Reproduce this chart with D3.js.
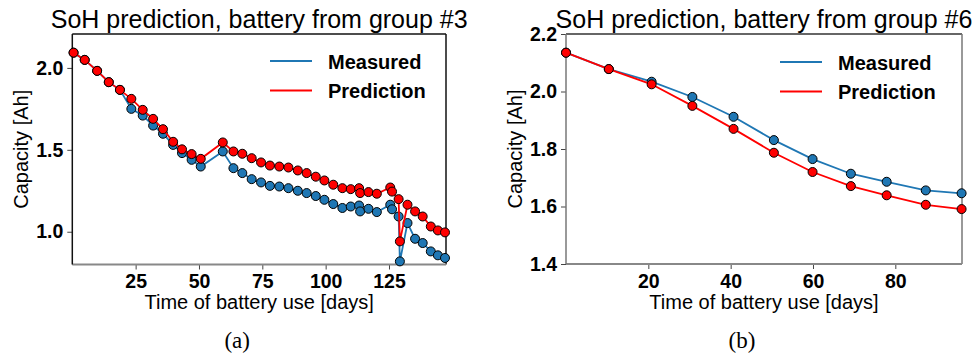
<!DOCTYPE html>
<meta charset="utf-8">
<style>
  body { margin: 0; background: #fff; }
  text { font-family: "Liberation Sans", Arial, sans-serif; }
  .tick text { font-weight: bold; font-size: 19.5px; fill: #000; }
  .legend text { font-weight: bold; font-size: 20px; }
</style>
<body>
<svg width="978" height="355"></svg>
<script src="https://cdn.jsdelivr.net/npm/d3@7"></script>
<script>
// panel (a): group #3
var daysA = [0.5, 4.9, 9.8, 14.4, 18.8, 23.3, 27.8, 31.9, 35.8, 39.8, 43.3, 47.1, 50.7,
  59.4, 63.6, 67.1, 70.8, 74.5, 78.0, 81.7, 85.3, 89.0, 92.5, 96.1, 99.5, 103.0, 106.6,
  109.9, 113.2, 113.6, 116.9, 120.2, 125.5, 126.2, 128.8, 129.3, 132.3, 135.3, 138.3,
  141.5, 144.3, 147.1];
var measuredA = [2.093, 2.049, 1.982, 1.913, 1.866, 1.750, 1.709, 1.648, 1.598, 1.530, 1.480,
  1.439, 1.398, 1.490, 1.388, 1.358, 1.321, 1.301, 1.280, 1.276, 1.266, 1.250, 1.236, 1.218,
  1.195, 1.169, 1.145, 1.154, 1.160, 1.124, 1.140, 1.120, 1.165, 1.137, 1.093, 0.819, 1.053,
  0.957, 0.931, 0.880, 0.856, 0.840];
var predictedA = [2.093, 2.049, 1.982, 1.913, 1.866, 1.811, 1.744, 1.689, 1.626, 1.549, 1.503,
  1.474, 1.445, 1.545, 1.490, 1.476, 1.449, 1.423, 1.404, 1.398, 1.392, 1.374, 1.358, 1.336,
  1.313, 1.287, 1.266, 1.260, 1.266, 1.236, 1.242, 1.232, 1.270, 1.245, 1.199, 0.941, 1.165,
  1.124, 1.093, 1.032, 1.008, 0.996];
var xTicksA = [25, 50, 75, 100, 125];
var yTicksA = [1.0, 1.5, 2.0];

// panel (b): group #6
var daysB = [0, 10.4, 20.8, 30.7, 40.7, 50.5, 59.9, 69.2, 77.9, 87.4, 96.1];
var measuredB = [2.135, 2.078, 2.034, 1.981, 1.912, 1.831, 1.765, 1.714, 1.686, 1.656, 1.646];
var predictedB = [2.135, 2.078, 2.025, 1.950, 1.870, 1.787, 1.720, 1.671, 1.639, 1.606, 1.591];
var xTicksB = [20, 40, 60, 80];
var yTicksB = [1.4, 1.6, 1.8, 2.0, 2.2];

var svg = d3.select("svg");

function panel(opt) {
  var x = d3.scaleLinear().domain(opt.xDomain).range([opt.left, opt.right]);
  var y = d3.scaleLinear().domain(opt.yDomain).range([opt.bottom, opt.top]);
  var g = svg.append("g");

  var xAxis = g.append("g")
    .attr("transform", "translate(0," + opt.bottom + ")")
    .call(d3.axisBottom(x).tickValues(opt.xTicks).tickSize(5).tickPadding(5).tickFormat(d3.format("d")));
  var yAxis = g.append("g")
    .attr("transform", "translate(" + opt.left + ",0)")
    .call(d3.axisLeft(y).tickValues(opt.yTicks).tickSize(5).tickPadding(4).tickFormat(d3.format(".1f")));
  [xAxis, yAxis].forEach(function(a) {
    a.select(".domain").remove();
    a.selectAll(".tick line").attr("stroke", "#444");
  });

  // frame
  g.append("line").attr("x1", opt.left).attr("x2", opt.right).attr("y1", opt.top).attr("y2", opt.top)
    .attr("stroke", opt.frame[0]).attr("stroke-width", 1.5);
  g.append("line").attr("x1", opt.right).attr("x2", opt.right).attr("y1", opt.top).attr("y2", opt.bottom)
    .attr("stroke", opt.frame[1]).attr("stroke-width", 1.5);
  g.append("line").attr("x1", opt.left).attr("x2", opt.right).attr("y1", opt.bottom).attr("y2", opt.bottom)
    .attr("stroke", opt.frame[2]).attr("stroke-width", 2);
  g.append("line").attr("x1", opt.left).attr("x2", opt.left).attr("y1", opt.top).attr("y2", opt.bottom)
    .attr("stroke", opt.frame[3]).attr("stroke-width", 1.5);

  var series = [
    { vals: opt.measured, color: "#1f77b4" },
    { vals: opt.predicted, color: "#ff0000" }
  ];
  var line = d3.line().x(function(d) { return x(d[0]); }).y(function(d) { return y(d[1]); });
  series.forEach(function(s) {
    var pts = opt.days.map(function(d, i) { return [d, s.vals[i]]; });
    g.append("path").datum(pts).attr("d", line)
      .attr("fill", "none").attr("stroke", s.color).attr("stroke-width", 1.8);
    g.selectAll(null).data(pts).enter().append("circle")
      .attr("cx", function(d) { return x(d[0]); })
      .attr("cy", function(d) { return y(d[1]); })
      .attr("r", 4.5)
      .attr("fill", s.color).attr("stroke", "#000").attr("stroke-width", 1);
  });

  // legend
  var lg = g.append("g").attr("class", "legend");
  [["Measured", "#1f77b4"], ["Prediction", "#ff0000"]].forEach(function(e, i) {
    var ly = opt.legendY + i * 29.5;
    lg.append("line").attr("x1", opt.legendX).attr("x2", opt.legendX + 42)
      .attr("y1", ly).attr("y2", ly).attr("stroke", e[1]).attr("stroke-width", 1.8);
    lg.append("text").attr("x", opt.legendX + 58).attr("y", ly + 7.5).text(e[0]);
  });

  var cx = (opt.left + opt.right) / 2;
  g.append("text").attr("x", cx).attr("y", 28).attr("text-anchor", "middle")
    .style("font-size", "25px").text(opt.title);
  g.append("text").attr("x", cx).attr("y", 309).attr("text-anchor", "middle")
    .style("font-size", "20px").text("Time of battery use [days]");
  g.append("text")
    .attr("transform", "translate(" + (opt.left - 44) + "," + ((opt.top + opt.bottom) / 2) + ") rotate(-90)")
    .attr("text-anchor", "middle").style("font-size", "20px").text("Capacity [Ah]");
  g.append("text").attr("x", cx - 22).attr("y", 348).attr("text-anchor", "middle")
    .style("font-family", "'Liberation Serif', 'Times New Roman', serif").style("font-size", "23px")
    .text(opt.caption);
}

panel({
  left: 72.3, right: 446, top: 34, bottom: 264.5,
  xDomain: [0, 147.5], yDomain: [0.8, 2.207],
  xTicks: xTicksA, yTicks: yTicksA,
  days: daysA, measured: measuredA, predicted: predictedA,
  frame: ["#111", "#111", "#888", "#111"],
  legendX: 270, legendY: 61,
  title: "SoH prediction, battery from group #3", caption: "(a)"
});

panel({
  left: 566, right: 962, top: 34, bottom: 264,
  xDomain: [0, 96.2], yDomain: [1.4, 2.2],
  xTicks: xTicksB, yTicks: yTicksB,
  days: daysB, measured: measuredB, predicted: predictedB,
  frame: ["#333", "#777", "#888", "#777"],
  legendX: 780, legendY: 62,
  title: "SoH prediction, battery from group #6", caption: "(b)"
});
</script>
</body>
